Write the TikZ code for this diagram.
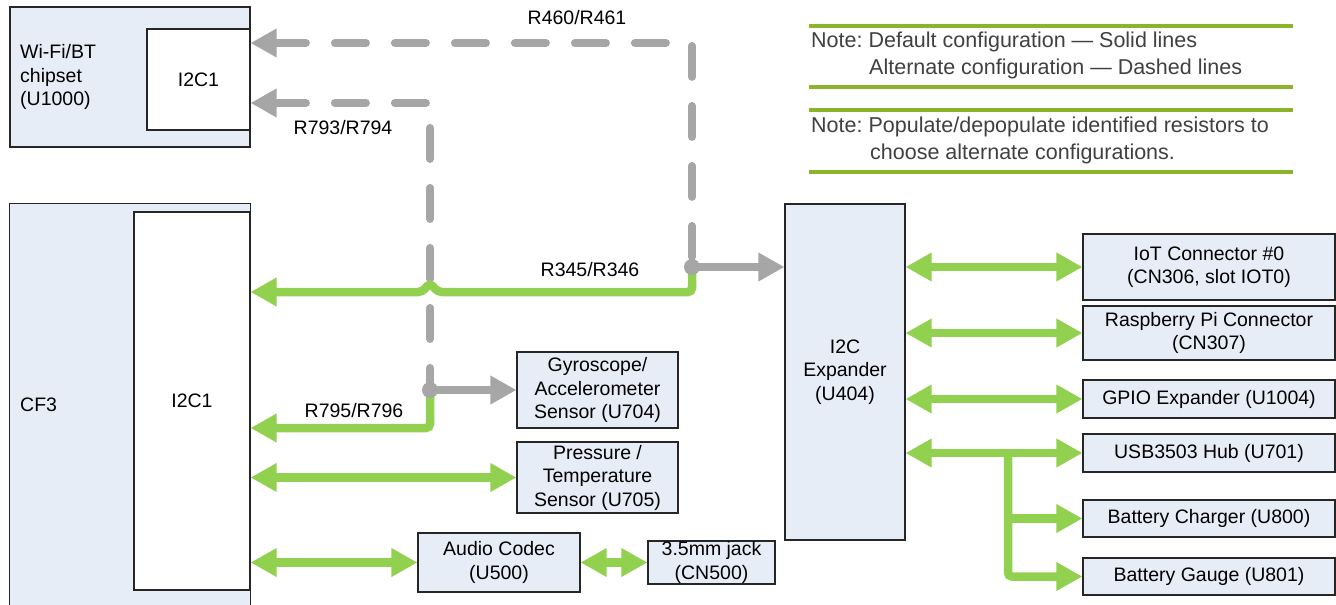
\documentclass[tikz,border=0pt]{standalone}
\usepackage{fontspec}
\setmainfont{Liberation Sans}
\usetikzlibrary{arrows.meta}
\frenchspacing

\definecolor{boxblue}{RGB}{231,237,247}
\definecolor{busgreen}{RGB}{146,208,80}
\definecolor{altgray}{RGB}{166,166,166}
\definecolor{notegreen}{RGB}{140,180,42}
\definecolor{notetext}{RGB}{64,64,64}

\tikzset{
  BusTip/.tip={Triangle[length=26pt,width=27pt]},
  blk/.style={draw=black!85, line width=1.1pt, fill=boxblue, align=center, inner sep=0pt},
  grn/.style={draw=busgreen, line width=8.5pt},
  gdbl/.style={grn, {BusTip}-{BusTip}},
  gsol/.style={draw=altgray, line width=8pt, -{BusTip}},
  dsh/.style={draw=altgray, line width=8pt, line cap=round, dash pattern=on 31pt off 29pt, {BusTip}-},
  note/.style={text=notetext, inner sep=0pt, anchor=west, font=\fontsize{21.5}{27}\selectfont}
}

\begin{document}
\begin{tikzpicture}[x=1pt, y=-1pt, font=\fontsize{19.5}{23.5}\selectfont]
  \useasboundingbox (0,0) rectangle (1336,605);

  % hosts
  \node[blk, minimum width=240pt, minimum height=140pt] (wifi) at (130,77) {};
  \node[blk, fill=white, minimum width=103pt, minimum height=101pt] (wifii2c) at (198.5,79.5) {I2C1};
  \node[anchor=west, align=left, inner sep=0pt] (wifitxt) at (20,77) {Wi-Fi/BT\\chipset\\(U1000)};

  \node[fill=boxblue, inner sep=0pt, minimum width=240pt, minimum height=401pt] (cf) at (130,404.5) {};
  \draw[black!85, line width=1.1pt] (cf.south west) -- (cf.north west) -- (cf.north east) -- (cf.south east);
  \node[blk, fill=white, minimum width=116pt, minimum height=378pt] (cfi2c) at (192,401) {I2C1};
  \node[anchor=west, inner sep=0pt] (cftxt) at (20,405) {CF3};

  % devices
  \node[blk, minimum width=161pt, minimum height=76pt] (gyro) at (597.5,390) {Gyroscope/\\Accelerometer\\Sensor (U704)};
  \node[blk, minimum width=161pt, minimum height=71pt] (press) at (597.5,477.5) {Pressure /\\Temperature\\Sensor (U705)};
  \node[blk, minimum width=162pt, minimum height=59pt] (codec) at (499,562.5) {Audio Codec\\(U500)};
  \node[blk, minimum width=127pt, minimum height=43pt] (jack) at (711.5,562.5) {3.5mm jack\\(CN500)};
  \node[blk, minimum width=120pt, minimum height=336pt] (expdr) at (845,372) {I2C\\Expander\\(U404)};

  \foreach \bx/\yc/\hh/\txt in {iot/267/66pt/{IoT Connector \#0\\(CN306, slot IOT0)},
      rpi/333/54pt/{Raspberry Pi Connector\\(CN307)}, gpio/399/38pt/{GPIO Expander (U1004)},
      usb/453/38pt/{USB3503 Hub (U701)}, chg/518.5/37pt/{Battery Charger (U800)},
      gauge/576.5/37pt/{Battery Gauge (U801)}}
    \node[blk, minimum width=252pt, minimum height=\hh] (\bx) at (1209,\yc) {\txt};

  % resistor labels
  \node (rtop) at (577,18) {R460/R461};
  \node (rmid) at (343,128) {R793/R794};
  \node (rgrn) at (590,270) {R345/R346};
  \node (rlow) at (354,411) {R795/R796};

  % alternate (dashed) paths
  \coordinate (jtop) at (692,43);
  \coordinate (jmid) at (430,103);
  \coordinate (jx) at (692,267);
  \coordinate (jy) at (430,390);
  \draw[dsh] (jtop -| wifii2c.east) -- (jtop) -- (jx);
  \draw[dsh] (jmid -| wifii2c.east) -- (jmid) -- (jy);
  \draw[gsol] (jx) -- (jx -| expdr.west);
  \draw[gsol] (jy) -- (jy -| gyro.west);

  % default (solid) paths
  \coordinate (g1) at (692,292);
  \coordinate (g2) at (430,428);
  \draw[grn, -{BusTip}, rounded corners=4pt] (jx) -- (g1) -- (438,292) -- (430,283) -- (422,292) -- (g1 -| cfi2c.east);
  \draw[grn, -{BusTip}, rounded corners=4pt] (jy) -- (g2) -- (g2 -| cfi2c.east);
  \fill[altgray] (jx) circle (8pt);
  \fill[altgray] (jy) circle (8pt);

  \draw[gdbl] (cfi2c.east |- press.west) -- (press.west);
  \draw[gdbl] (cfi2c.east |- codec.west) -- (codec.west);
  \draw[gdbl] (codec.east) -- (jack.west);

  \foreach \bx in {iot,rpi,gpio,usb}
    \draw[gdbl] (expdr.east |- \bx.west) -- (\bx.west);
  \coordinate (br) at (1008,453);
  \draw[grn, -{BusTip}, rounded corners=4pt] (br) |- (gauge.west);
  \draw[grn, -{BusTip}] (br |- chg.west) -- (chg.west);

  % notes
  \foreach \y in {26,87,110,172}
    \draw[notegreen, line width=4.5pt] (809,\y) -- (1293,\y);
  \node[note] (nt1) at (811,42) {Note: Default configuration — Solid lines};
  \node[note] (nt2) at (869,69) {Alternate configuration — Dashed lines};
  \node[note] (nt3) at (811,127) {Note: Populate/depopulate identified resistors to};
  \node[note] (nt4) at (870,154) {choose alternate configurations.};
\end{tikzpicture}
\end{document}
